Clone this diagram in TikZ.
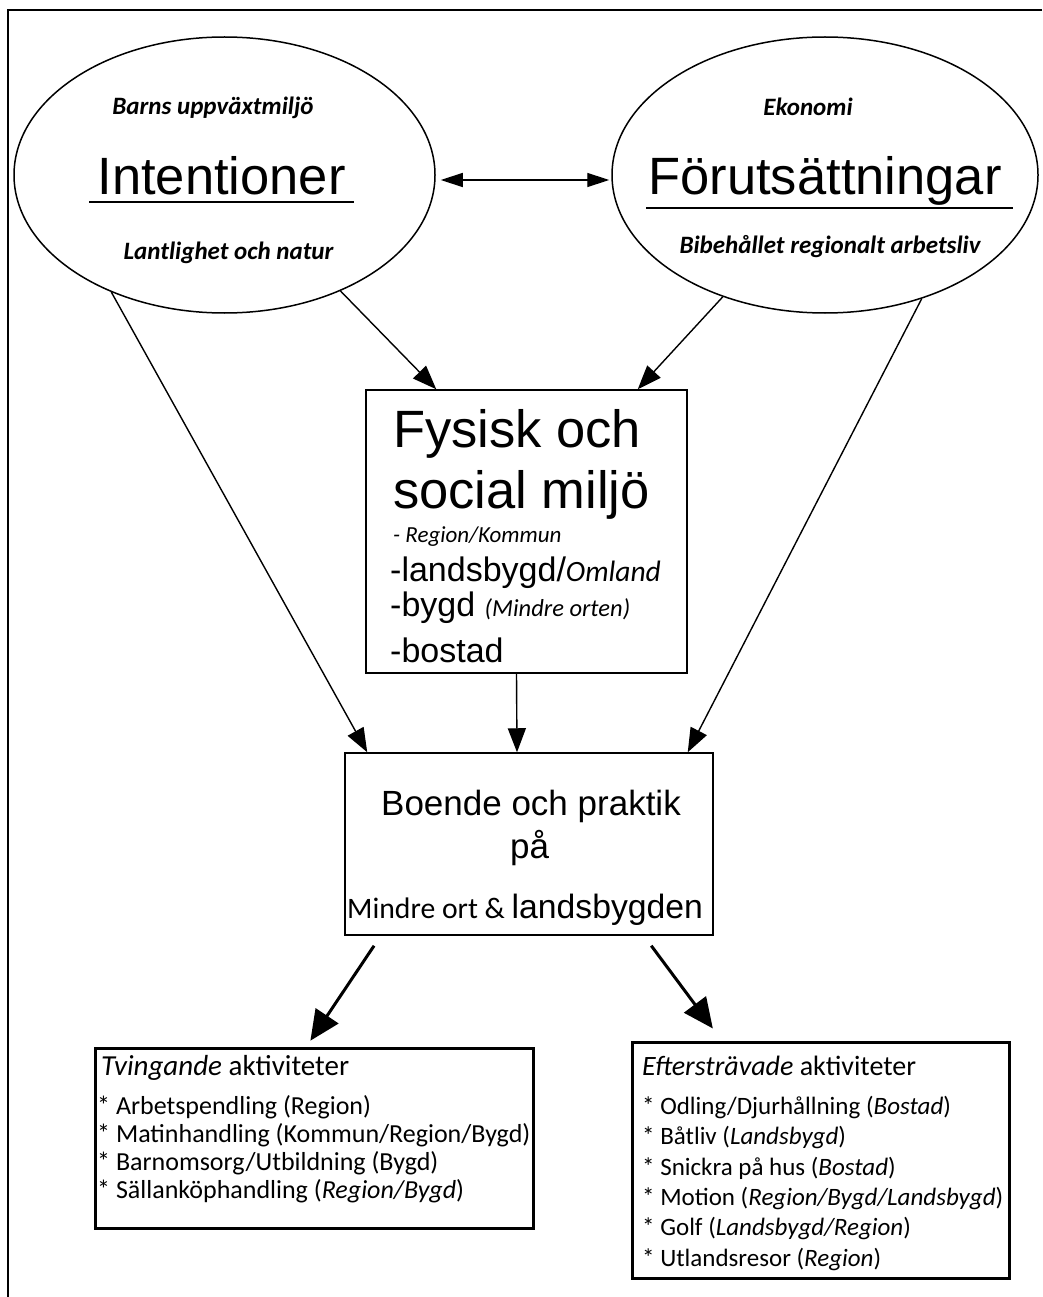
\documentclass[tikz,border=0pt]{standalone}
\usepackage{fontspec}
\setmainfont{Carlito}
\newfontfamily\arialf{Liberation Sans}
\usetikzlibrary{arrows.meta,shapes.geometric,calc}
\newcommand\setfs[1]{\fontsize{#1}{#1}\selectfont}

\begin{document}
\begin{tikzpicture}[x=1pt,y=-1pt,
  oval/.style={draw, ellipse, line width=1.5pt, inner sep=0,
    minimum width=421pt, minimum height=276pt},
  thinbox/.style={draw, line width=1.5pt, inner sep=0},
  thickbox/.style={draw, line width=3pt, inner sep=0},
  txt/.style={inner sep=0, anchor=base west},
  ctxt/.style={inner sep=0, anchor=base},
  thinarrow/.style={line width=1.4pt, -{Triangle[length=24pt,width=18pt]}},
  bigarrow/.style={line width=3pt, -{Triangle[length=30pt,width=27pt]}},
  subhead/.style={font=\bfseries\itshape\setfs{25}},
  bigsans/.style={font=\arialf\setfs{52.5}},
]
\useasboundingbox (0,0) rectangle (1042,1297);
\fill[white] (0,0) rectangle (1042,1297);

% frame
\draw[line width=2pt] (1042,10) -- (8,10) -- (8,1297);

% the two ovals
\node[oval] (intent) at (224.5,175) {};
\node[oval, minimum width=426pt] (forut) at (825,175) {};

\node[ctxt, subhead] (barns) at (213,115) {Barns uppväxtmiljö};
\node[ctxt, bigsans] (intT) at (221.5,195) {Intentioner};
\draw[line width=1.3pt] (89,202) -- (354,202);
\node[ctxt, subhead] (lant) at (228.5,259) {Lantlighet och natur};

\node[ctxt, subhead] (eko) at (808,116) {Ekonomi};
\node[ctxt, bigsans] (forT) at (825,195) {Förutsättningar};
\draw[line width=1.3pt] (646,208) -- (1013,208);
\node[ctxt, subhead] (bibe) at (830,253) {Bibehållet regionalt arbetsliv};

% physical and social environment
\node[thinbox, minimum width=321pt, minimum height=283pt] (fys) at (526.5,531.5) {};
\node[txt, bigsans] (fys1) at (393,447) {Fysisk och};
\node[txt, bigsans] (fys2) at (393,508) {social miljö};
\node[txt, font=\itshape\setfs{23}] (fys3) at (393,542) {- Region/Kommun};
\node[txt] (fys4) at (390,581) {{\arialf\setfs{34}-landsbygd/}{\itshape\setfs{29.5}Omland}};
\node[txt] (fys5) at (390,616) {{\arialf\setfs{34}-bygd }{\itshape\setfs{24.5}(Mindre orten)}};
\node[txt, font=\arialf\setfs{34}] (fys6) at (390,662) {-bostad};

% housing and practice
\node[thinbox, minimum width=368pt, minimum height=182pt] (boende) at (529,844) {};
\node[ctxt, font=\arialf\setfs{35}] (boe1) at (531,815) {Boende och praktik};
\node[ctxt, font=\arialf\setfs{35}] (boe2) at (529.5,858) {på};
\node[txt] (boe3) at (347,918) {{\setfs{29.7}Mindre ort \& }{\arialf\setfs{33.7}landsbygden}};

% activity boxes
\node[thickbox, minimum width=438pt, minimum height=180pt] (tving) at (314,1138) {};
\node[txt, font=\setfs{29}] (tv0) at (101,1075) {\textit{Tvingande} aktiviteter};
\node[txt, font=\setfs{26}] (tv1) at (97,1114) {* Arbetspendling (Region)};
\node[txt, font=\setfs{26}] (tv2) at (97,1142) {* Matinhandling (Kommun/Region/Bygd)};
\node[txt, font=\setfs{26}] (tv3) at (97,1170) {* Barnomsorg/Utbildning (Bygd)};
\node[txt, font=\setfs{26}] (tv4) at (97,1198) {* Sällanköphandling (\textit{Region/Bygd})};

\node[thickbox, minimum width=377pt, minimum height=236pt] (efter) at (820.5,1160) {};
\node[txt, font=\setfs{28}] (ef0) at (642,1075) {\textit{Eftersträvade} aktiviteter};
\node[txt, font=\setfs{25}] (ef1) at (642,1114) {* Odling/Djurhållning (\textit{Bostad})};
\node[txt, font=\setfs{25}] (ef2) at (642,1144) {* Båtliv (\textit{Landsbygd})};
\node[txt, font=\setfs{25}] (ef3) at (642,1175) {* Snickra på hus (\textit{Bostad})};
\node[txt, font=\setfs{25}] (ef4) at (642,1205) {* Motion (\textit{Region/Bygd/Landsbygd})};
\node[txt, font=\setfs{25}] (ef5) at (642,1235) {* Golf (\textit{Landsbygd/Region})};
\node[txt, font=\setfs{25}] (ef6) at (642,1266) {* Utlandsresor (\textit{Region})};

% connectors
\draw[line width=1.4pt, {Triangle[length=22pt,width=14pt]}-{Triangle[length=22pt,width=14pt]}]
  ($(intent.east)+(5,5)$) -- ($(forut.west)+(-2,5)$);
\draw[thinarrow] (intent.226) -- ([xshift=23pt]boende.north west);
\draw[thinarrow] (intent.-45) -- ([xshift=71pt]fys.north west);
\draw[thinarrow] (forut.230) -- ([xshift=-50pt]fys.north east);
\draw[thinarrow] (forut.-52) -- ([xshift=-26pt]boende.north east);
\draw[thinarrow] ([xshift=-10pt]fys.south) -- ([xshift=-12pt]boende.north);
\draw[bigarrow, shorten <=12pt, shorten >=7pt]
  ([xshift=36.5pt]boende.south west) -- ([xshift=213pt]tving.north west);
\draw[bigarrow, shorten <=12.4pt, shorten >=15pt]
  ([xshift=299.6pt]boende.south west) -- ([xshift=91.3pt]efter.north west);
\end{tikzpicture}
\end{document}
